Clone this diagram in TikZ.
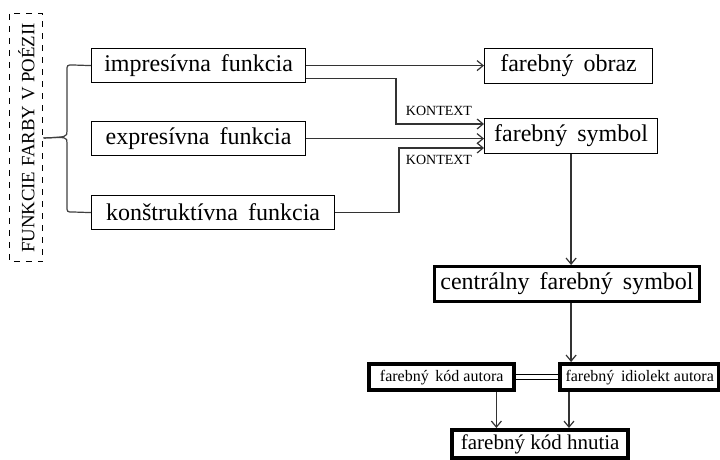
\documentclass[tikz,border=0pt]{standalone}
\usepackage{fontspec}
\setmainfont{Liberation Serif}
\usetikzlibrary{arrows.meta, calc}

\begin{document}
\begin{tikzpicture}[
            x=0.5pt, y=-0.5pt,
            every node/.style={inner sep=0pt, text=black},
            funcbox/.style={rectangle, draw, line width=0.6pt, anchor=north west, minimum height=17pt, font=\fontsize{12}{14}\selectfont},
            centerbox/.style={funcbox, line width=1.5pt, minimum height=17.5pt},
            codebox/.style={rectangle, draw, line width=2.2pt, anchor=north west, minimum height=13pt, font=\fontsize{8}{10}\selectfont},
            titlebox/.style={rectangle, draw, dashed, line width=0.5pt, rotate=90, minimum width=124pt, minimum height=16.5pt, font=\fontsize{9.4}{11}\selectfont},
            ctxlabel/.style={font=\fontsize{7}{8}\selectfont},
            brace/.style={line width=0.6pt, draw=black!75},
            arrow/.style={-{Straight Barb[length=3pt, width=5pt]}, line width=0.6pt, draw=black!80}
        ]

        \useasboundingbox (0,0) rectangle (720,460);

        % --- 1. TITLE ---
        \node[titlebox] (fun) at (26.5,138) {FUNKCIE FARBY V POÉZII};

        % --- 2. FUNCTIONS ---
        \node[funcbox, minimum width=107pt] (imp) at (91,48) {impresívna\, funkcia};
        \node[funcbox, minimum width=107pt] (exp) at (91,121) {expresívna\, funkcia};
        \node[funcbox, minimum width=121.5pt] (kon) at (91,195) {konštruktívna\, funkcia};

        % --- 3. IMAGE / SYMBOL ---
        \node[funcbox, minimum width=84pt, minimum height=17.5pt] (obraz) at (484,48) {farebný\, obraz};
        \node[funcbox, minimum width=86.5pt, minimum height=17.5pt] (symb) at (484,118) {farebný\, symbol};
        \node[centerbox, minimum width=132.5pt] (centr) at (433,265) {centrálny\, farebný\, symbol};

        % --- 4. CODES ---
        \node[codebox, minimum width=72.5pt] (kodaut) at (367,362) {farebný\, kód autora};
        \node[codebox, minimum width=79.5pt] (idiol) at (558,362) {farebný\, idiolekt autora};
        \node[codebox, minimum width=88pt, minimum height=14pt, font=\fontsize{10.5}{12}\selectfont] (hnutia) at (450,428) {farebný kód hnutia};

        \coordinate (k1) at (396,124);
        \coordinate (k2) at (399,148);
        \coordinate (d1) at ($(kodaut.south east)+(-20,0)$);
        \coordinate (d2) at ($(idiol.south west)+(11,0)$);
        \node[ctxlabel] (ctx1) at (439,111) {KONTEXT};
        \node[ctxlabel] (ctx2) at (439,160) {KONTEXT};

        % --- BRACE ---
        \draw[brace] (imp.west) -- (73,65) .. controls (67,65) .. (67,71) -- (67,131) .. controls (67,137) .. (fun.south);
        \draw[brace] (fun.south) .. controls (67,137) .. (67,143) -- (67,206) .. controls (67,212) .. (73,212) -- (kon.west);

        % --- ROUTING ARROWS ---
        \draw[arrow] (imp.east) -- (imp.east -| obraz.west);
        \draw[arrow] ($(imp.south east)+(0,-5)$) -| (k1) -- (k1 -| symb.west);
        \draw[arrow] (exp.east) -- (exp.east -| symb.west);
        \draw[arrow] (kon.east) -| (k2) -- (k2 -| symb.west);
        \draw[arrow] (symb.south) -- (symb.south |- centr.north);
        \draw[arrow] (symb.south |- centr.south) -- (symb.south |- idiol.north);
        \draw[line width=0.5pt, double, double distance=2pt] (kodaut.east) -- (idiol.west);
        \draw[arrow] (d1) -- (d1 |- hnutia.north);
        \draw[arrow] (d2) -- (d2 |- hnutia.north);

\end{tikzpicture}
\end{document}
